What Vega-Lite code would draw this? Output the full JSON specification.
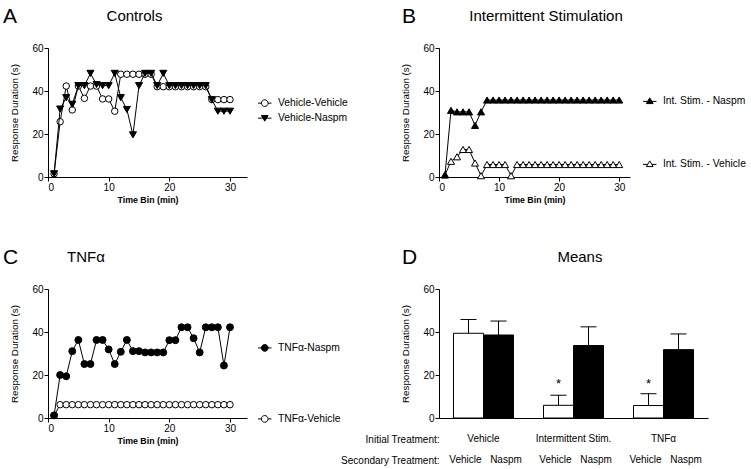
{
  "$schema": "https://vega.github.io/schema/vega-lite/v6.json",
  "padding": {"left": 3, "top": 6, "right": 0, "bottom": 0},
  "config": {
    "font": "Liberation Sans",
    "view": {"stroke": null},
    "axis": {"grid": false, "domainColor": "black", "tickColor": "black", "labelColor": "black", "titleColor": "black", "labelFontSize": 10, "titleFontSize": 9.8, "titleFontWeight": "normal", "tickSize": 4, "labelPadding": 1, "domainWidth": 1, "tickWidth": 1},
    "axisX": {"titlePadding": 3, "titleFontWeight": "bold", "titleFontSize": 8.8},
    "axisY": {"titlePadding": 12},
    "legend": {"labelFontSize": 10.3, "labelColor": "black", "padding": 0, "symbolStrokeWidth": 1, "symbolStrokeColor": "black", "symbolSize": 45, "labelOffset": 8, "title": null},
    "text": {"color": "black"}
  },
  "datasets": {
    "controls": [
      {"series":"Vehicle-Vehicle","bin":1,"duration":1.5},{"series":"Vehicle-Vehicle","bin":2,"duration":25.7},{"series":"Vehicle-Vehicle","bin":3,"duration":42.3},{"series":"Vehicle-Vehicle","bin":4,"duration":31.2},{"series":"Vehicle-Vehicle","bin":5,"duration":42.3},{"series":"Vehicle-Vehicle","bin":6,"duration":36.6},{"series":"Vehicle-Vehicle","bin":7,"duration":42.3},{"series":"Vehicle-Vehicle","bin":8,"duration":42.3},{"series":"Vehicle-Vehicle","bin":9,"duration":36.3},{"series":"Vehicle-Vehicle","bin":10,"duration":36.3},{"series":"Vehicle-Vehicle","bin":11,"duration":30.6},{"series":"Vehicle-Vehicle","bin":12,"duration":47.8},{"series":"Vehicle-Vehicle","bin":13,"duration":47.8},{"series":"Vehicle-Vehicle","bin":14,"duration":47.8},{"series":"Vehicle-Vehicle","bin":15,"duration":47.8},{"series":"Vehicle-Vehicle","bin":16,"duration":47.8},{"series":"Vehicle-Vehicle","bin":17,"duration":47.8},{"series":"Vehicle-Vehicle","bin":18,"duration":42},{"series":"Vehicle-Vehicle","bin":19,"duration":42},{"series":"Vehicle-Vehicle","bin":20,"duration":42},{"series":"Vehicle-Vehicle","bin":21,"duration":42},{"series":"Vehicle-Vehicle","bin":22,"duration":42},{"series":"Vehicle-Vehicle","bin":23,"duration":42},{"series":"Vehicle-Vehicle","bin":24,"duration":42},{"series":"Vehicle-Vehicle","bin":25,"duration":42},{"series":"Vehicle-Vehicle","bin":26,"duration":42},{"series":"Vehicle-Vehicle","bin":27,"duration":36},{"series":"Vehicle-Vehicle","bin":28,"duration":36},{"series":"Vehicle-Vehicle","bin":29,"duration":36},{"series":"Vehicle-Vehicle","bin":30,"duration":36},
      {"series":"Vehicle-Naspm","bin":1,"duration":1.5},{"series":"Vehicle-Naspm","bin":2,"duration":31.6},{"series":"Vehicle-Naspm","bin":3,"duration":36.9},{"series":"Vehicle-Naspm","bin":4,"duration":33.8},{"series":"Vehicle-Naspm","bin":5,"duration":42.5},{"series":"Vehicle-Naspm","bin":6,"duration":42.5},{"series":"Vehicle-Naspm","bin":7,"duration":48.2},{"series":"Vehicle-Naspm","bin":8,"duration":43},{"series":"Vehicle-Naspm","bin":9,"duration":42.5},{"series":"Vehicle-Naspm","bin":10,"duration":42.5},{"series":"Vehicle-Naspm","bin":11,"duration":48.2},{"series":"Vehicle-Naspm","bin":12,"duration":36.9},{"series":"Vehicle-Naspm","bin":13,"duration":31.4},{"series":"Vehicle-Naspm","bin":14,"duration":19.6},{"series":"Vehicle-Naspm","bin":15,"duration":42.5},{"series":"Vehicle-Naspm","bin":16,"duration":48.2},{"series":"Vehicle-Naspm","bin":17,"duration":48.2},{"series":"Vehicle-Naspm","bin":18,"duration":42.5},{"series":"Vehicle-Naspm","bin":19,"duration":48.2},{"series":"Vehicle-Naspm","bin":20,"duration":42.5},{"series":"Vehicle-Naspm","bin":21,"duration":42.5},{"series":"Vehicle-Naspm","bin":22,"duration":42.5},{"series":"Vehicle-Naspm","bin":23,"duration":42.5},{"series":"Vehicle-Naspm","bin":24,"duration":42.5},{"series":"Vehicle-Naspm","bin":25,"duration":42.5},{"series":"Vehicle-Naspm","bin":26,"duration":42.5},{"series":"Vehicle-Naspm","bin":27,"duration":36},{"series":"Vehicle-Naspm","bin":28,"duration":30.6},{"series":"Vehicle-Naspm","bin":29,"duration":30.6},{"series":"Vehicle-Naspm","bin":30,"duration":30.6}
    ],
    "intermittent": [
      {"series":"Int. Stim. - Vehicle","bin":1,"duration":1},{"series":"Int. Stim. - Vehicle","bin":2,"duration":7.3},{"series":"Int. Stim. - Vehicle","bin":3,"duration":9.4},{"series":"Int. Stim. - Vehicle","bin":4,"duration":12.8},{"series":"Int. Stim. - Vehicle","bin":5,"duration":12.8},{"series":"Int. Stim. - Vehicle","bin":6,"duration":6.5},{"series":"Int. Stim. - Vehicle","bin":7,"duration":0.6},{"series":"Int. Stim. - Vehicle","bin":8,"duration":5.8},{"series":"Int. Stim. - Vehicle","bin":9,"duration":5.8},{"series":"Int. Stim. - Vehicle","bin":10,"duration":5.8},{"series":"Int. Stim. - Vehicle","bin":11,"duration":5.8},{"series":"Int. Stim. - Vehicle","bin":12,"duration":0.6},{"series":"Int. Stim. - Vehicle","bin":13,"duration":5.8},{"series":"Int. Stim. - Vehicle","bin":14,"duration":5.8},{"series":"Int. Stim. - Vehicle","bin":15,"duration":5.8},{"series":"Int. Stim. - Vehicle","bin":16,"duration":5.8},{"series":"Int. Stim. - Vehicle","bin":17,"duration":5.8},{"series":"Int. Stim. - Vehicle","bin":18,"duration":5.8},{"series":"Int. Stim. - Vehicle","bin":19,"duration":5.8},{"series":"Int. Stim. - Vehicle","bin":20,"duration":5.8},{"series":"Int. Stim. - Vehicle","bin":21,"duration":5.8},{"series":"Int. Stim. - Vehicle","bin":22,"duration":5.8},{"series":"Int. Stim. - Vehicle","bin":23,"duration":5.8},{"series":"Int. Stim. - Vehicle","bin":24,"duration":5.8},{"series":"Int. Stim. - Vehicle","bin":25,"duration":5.8},{"series":"Int. Stim. - Vehicle","bin":26,"duration":5.8},{"series":"Int. Stim. - Vehicle","bin":27,"duration":5.8},{"series":"Int. Stim. - Vehicle","bin":28,"duration":5.8},{"series":"Int. Stim. - Vehicle","bin":29,"duration":5.8},{"series":"Int. Stim. - Vehicle","bin":30,"duration":5.8},
      {"series":"Int. Stim. - Naspm","bin":1,"duration":1},{"series":"Int. Stim. - Naspm","bin":2,"duration":31},{"series":"Int. Stim. - Naspm","bin":3,"duration":30.3},{"series":"Int. Stim. - Naspm","bin":4,"duration":30.3},{"series":"Int. Stim. - Naspm","bin":5,"duration":30.3},{"series":"Int. Stim. - Naspm","bin":6,"duration":24},{"series":"Int. Stim. - Naspm","bin":7,"duration":30.3},{"series":"Int. Stim. - Naspm","bin":8,"duration":35.8},{"series":"Int. Stim. - Naspm","bin":9,"duration":35.8},{"series":"Int. Stim. - Naspm","bin":10,"duration":35.8},{"series":"Int. Stim. - Naspm","bin":11,"duration":35.8},{"series":"Int. Stim. - Naspm","bin":12,"duration":35.8},{"series":"Int. Stim. - Naspm","bin":13,"duration":35.8},{"series":"Int. Stim. - Naspm","bin":14,"duration":35.8},{"series":"Int. Stim. - Naspm","bin":15,"duration":35.8},{"series":"Int. Stim. - Naspm","bin":16,"duration":35.8},{"series":"Int. Stim. - Naspm","bin":17,"duration":35.8},{"series":"Int. Stim. - Naspm","bin":18,"duration":35.8},{"series":"Int. Stim. - Naspm","bin":19,"duration":35.8},{"series":"Int. Stim. - Naspm","bin":20,"duration":35.8},{"series":"Int. Stim. - Naspm","bin":21,"duration":35.8},{"series":"Int. Stim. - Naspm","bin":22,"duration":35.8},{"series":"Int. Stim. - Naspm","bin":23,"duration":35.8},{"series":"Int. Stim. - Naspm","bin":24,"duration":35.8},{"series":"Int. Stim. - Naspm","bin":25,"duration":35.8},{"series":"Int. Stim. - Naspm","bin":26,"duration":35.8},{"series":"Int. Stim. - Naspm","bin":27,"duration":35.8},{"series":"Int. Stim. - Naspm","bin":28,"duration":35.8},{"series":"Int. Stim. - Naspm","bin":29,"duration":35.8},{"series":"Int. Stim. - Naspm","bin":30,"duration":35.8}
    ],
    "tnf": [
      {"series":"TNFα-Vehicle","bin":1,"duration":1.2},{"series":"TNFα-Vehicle","bin":2,"duration":6.2},{"series":"TNFα-Vehicle","bin":3,"duration":6.2},{"series":"TNFα-Vehicle","bin":4,"duration":6.2},{"series":"TNFα-Vehicle","bin":5,"duration":6.2},{"series":"TNFα-Vehicle","bin":6,"duration":6.2},{"series":"TNFα-Vehicle","bin":7,"duration":6.2},{"series":"TNFα-Vehicle","bin":8,"duration":6.2},{"series":"TNFα-Vehicle","bin":9,"duration":6.2},{"series":"TNFα-Vehicle","bin":10,"duration":6.2},{"series":"TNFα-Vehicle","bin":11,"duration":6.2},{"series":"TNFα-Vehicle","bin":12,"duration":6.2},{"series":"TNFα-Vehicle","bin":13,"duration":6.2},{"series":"TNFα-Vehicle","bin":14,"duration":6.2},{"series":"TNFα-Vehicle","bin":15,"duration":6.2},{"series":"TNFα-Vehicle","bin":16,"duration":6.2},{"series":"TNFα-Vehicle","bin":17,"duration":6.2},{"series":"TNFα-Vehicle","bin":18,"duration":6.2},{"series":"TNFα-Vehicle","bin":19,"duration":6.2},{"series":"TNFα-Vehicle","bin":20,"duration":6.2},{"series":"TNFα-Vehicle","bin":21,"duration":6.2},{"series":"TNFα-Vehicle","bin":22,"duration":6.2},{"series":"TNFα-Vehicle","bin":23,"duration":6.2},{"series":"TNFα-Vehicle","bin":24,"duration":6.2},{"series":"TNFα-Vehicle","bin":25,"duration":6.2},{"series":"TNFα-Vehicle","bin":26,"duration":6.2},{"series":"TNFα-Vehicle","bin":27,"duration":6.2},{"series":"TNFα-Vehicle","bin":28,"duration":6.2},{"series":"TNFα-Vehicle","bin":29,"duration":6.2},{"series":"TNFα-Vehicle","bin":30,"duration":6.2},
      {"series":"TNFα-Naspm","bin":1,"duration":1.2},{"series":"TNFα-Naspm","bin":2,"duration":20},{"series":"TNFα-Naspm","bin":3,"duration":19.4},{"series":"TNFα-Naspm","bin":4,"duration":31.1},{"series":"TNFα-Naspm","bin":5,"duration":36.3},{"series":"TNFα-Naspm","bin":6,"duration":25.1},{"series":"TNFα-Naspm","bin":7,"duration":25.1},{"series":"TNFα-Naspm","bin":8,"duration":36.3},{"series":"TNFα-Naspm","bin":9,"duration":36.3},{"series":"TNFα-Naspm","bin":10,"duration":31.9},{"series":"TNFα-Naspm","bin":11,"duration":25.1},{"series":"TNFα-Naspm","bin":12,"duration":30.8},{"series":"TNFα-Naspm","bin":13,"duration":36.3},{"series":"TNFα-Naspm","bin":14,"duration":31.1},{"series":"TNFα-Naspm","bin":15,"duration":31.1},{"series":"TNFα-Naspm","bin":16,"duration":30.5},{"series":"TNFα-Naspm","bin":17,"duration":30.5},{"series":"TNFα-Naspm","bin":18,"duration":30.5},{"series":"TNFα-Naspm","bin":19,"duration":30.5},{"series":"TNFα-Naspm","bin":20,"duration":36.2},{"series":"TNFα-Naspm","bin":21,"duration":36.2},{"series":"TNFα-Naspm","bin":22,"duration":42.2},{"series":"TNFα-Naspm","bin":23,"duration":42.2},{"series":"TNFα-Naspm","bin":24,"duration":37.1},{"series":"TNFα-Naspm","bin":25,"duration":30.5},{"series":"TNFα-Naspm","bin":26,"duration":42.2},{"series":"TNFα-Naspm","bin":27,"duration":42.2},{"series":"TNFα-Naspm","bin":28,"duration":42.2},{"series":"TNFα-Naspm","bin":29,"duration":24.4},{"series":"TNFα-Naspm","bin":30,"duration":42.2}
    ],
    "means": [
      {"initial":"Vehicle","secondary":"Vehicle","mean":39.4,"upper":45.8,"sig":""},
      {"initial":"Vehicle","secondary":"Naspm","mean":38.6,"upper":45.1,"sig":""},
      {"initial":"Intermittent Stim.","secondary":"Vehicle","mean":5.9,"upper":10.6,"sig":"*"},
      {"initial":"Intermittent Stim.","secondary":"Naspm","mean":33.7,"upper":42.4,"sig":""},
      {"initial":"TNFα","secondary":"Vehicle","mean":5.8,"upper":11.3,"sig":"*"},
      {"initial":"TNFα","secondary":"Naspm","mean":31.8,"upper":39.1,"sig":""}
    ],
    "labels": [
      {"panel":"A","letter":"A","name":"Controls"},
      {"panel":"B","letter":"B","name":"Intermittent Stimulation"},
      {"panel":"C","letter":"C","name":"TNFα"},
      {"panel":"D","letter":"D","name":"Means"}
    ]
  },
  "columns": 2,
  "spacing": {"row": 112, "column": 192},
  "bounds": "flush",
  "concat": [
    {
      "width": 199, "height": 129,
      "layer": [
        {"data": {"name": "controls"}, "transform": [{"filter": "datum.series === 'Vehicle-Vehicle'"}],
         "mark": {"type": "line", "color": "black", "strokeWidth": 1},
         "encoding": {
           "x": {"field": "bin", "type": "quantitative", "scale": {"domain": [0, 32.8], "nice": false}, "axis": {"values": [0, 10, 20, 30], "title": "Time Bin (min)"}},
           "y": {"field": "duration", "type": "quantitative", "scale": {"domain": [0, 60], "nice": false}, "axis": {"values": [0, 20, 40, 60], "title": "Response Duration (s)"}}}},
        {"data": {"name": "controls"}, "transform": [{"filter": "datum.series === 'Vehicle-Vehicle'"}],
         "mark": {"type": "point", "shape": "circle", "filled": true, "size": 42, "stroke": "black", "strokeWidth": 1, "opacity": 1},
         "encoding": {
           "x": {"field": "bin", "type": "quantitative", "scale": {"domain": [0, 32.8], "nice": false}},
           "y": {"field": "duration", "type": "quantitative", "scale": {"domain": [0, 60], "nice": false}},
           "fill": {"field": "series", "type": "nominal", "scale": {"range": ["white"]},
             "legend": {"orient": "none", "legendX": 211.6, "legendY": 50, "symbolType": "M-2,0H-1M1,0H2M-1,0A1,1,0,1,0,1,0A1,1,0,1,0,-1,0Z",
               "encode": {"symbols": {"update": {"stroke": {"value": "black"}, "strokeWidth": {"value": 1}, "opacity": {"value": 1}}}}}}}},
        {"data": {"name": "controls"}, "transform": [{"filter": "datum.series === 'Vehicle-Naspm'"}],
         "mark": {"type": "line", "color": "black", "strokeWidth": 1},
         "encoding": {
           "x": {"field": "bin", "type": "quantitative", "scale": {"domain": [0, 32.8], "nice": false}},
           "y": {"field": "duration", "type": "quantitative", "scale": {"domain": [0, 60], "nice": false}}}},
        {"data": {"name": "controls"}, "transform": [{"filter": "datum.series === 'Vehicle-Naspm'"}],
         "mark": {"type": "point", "shape": "triangle-down", "filled": true, "size": 50, "stroke": "black", "strokeWidth": 1, "opacity": 1},
         "encoding": {
           "x": {"field": "bin", "type": "quantitative", "scale": {"domain": [0, 32.8], "nice": false}},
           "y": {"field": "duration", "type": "quantitative", "scale": {"domain": [0, 60], "nice": false}},
           "fill": {"field": "series", "type": "nominal", "scale": {"range": ["black"]},
             "legend": {"orient": "none", "legendX": 211.6, "legendY": 65, "symbolType": "M-2,0H2M-1,-0.8H1L0,0.9Z",
               "encode": {"symbols": {"update": {"stroke": {"value": "black"}, "strokeWidth": {"value": 1}, "opacity": {"value": 1}}}}}}}},
        {"data": {"name": "labels"}, "transform": [{"filter": "datum.panel === 'A'"}],
         "mark": {"type": "text", "fontSize": 21, "align": "left", "baseline": "alphabetic"},
         "encoding": {
           "x": {"datum": -7.4, "type": "quantitative", "scale": {"domain": [0, 32.8], "nice": false}},
           "y": {"datum": 71.6, "type": "quantitative", "scale": {"domain": [0, 60], "nice": false}},
           "text": {"field": "letter"}}},
        {"data": {"name": "labels"}, "transform": [{"filter": "datum.panel === 'A'"}],
         "mark": {"type": "text", "fontSize": 15, "align": "center", "baseline": "alphabetic"},
         "encoding": {
           "x": {"datum": 14.26, "type": "quantitative", "scale": {"domain": [0, 32.8], "nice": false}},
           "y": {"datum": 72.56, "type": "quantitative", "scale": {"domain": [0, 60], "nice": false}},
           "text": {"field": "name"}}}
      ],
      "resolve": {"scale": {"fill": "independent"}}
    },
    {
      "width": 191, "height": 129,
      "layer": [
        {"data": {"name": "intermittent"}, "transform": [{"filter": "datum.series === 'Int. Stim. - Vehicle'"}],
         "mark": {"type": "line", "color": "black", "strokeWidth": 1},
         "encoding": {
           "x": {"field": "bin", "type": "quantitative", "scale": {"domain": [0, 31.8], "nice": false}, "axis": {"values": [0, 10, 20, 30], "title": "Time Bin (min)"}},
           "y": {"field": "duration", "type": "quantitative", "scale": {"domain": [0, 60], "nice": false}, "axis": {"values": [0, 20, 40, 60], "title": "Response Duration (s)"}}}},
        {"data": {"name": "intermittent"}, "transform": [{"filter": "datum.series === 'Int. Stim. - Vehicle'"}],
         "mark": {"type": "point", "shape": "triangle-up", "filled": true, "size": 50, "stroke": "black", "strokeWidth": 1, "opacity": 1},
         "encoding": {
           "x": {"field": "bin", "type": "quantitative", "scale": {"domain": [0, 31.8], "nice": false}},
           "y": {"field": "duration", "type": "quantitative", "scale": {"domain": [0, 60], "nice": false}},
           "fill": {"field": "series", "type": "nominal", "scale": {"range": ["white"]},
             "legend": {"orient": "none", "legendX": 205.6, "legendY": 110.75, "symbolType": "M-2,0.15H-0.62M0.62,0.15H2M-1,0.8H1L0,-0.9Z",
               "encode": {"symbols": {"update": {"stroke": {"value": "black"}, "strokeWidth": {"value": 1}, "opacity": {"value": 1}}}}}}}},
        {"data": {"name": "intermittent"}, "transform": [{"filter": "datum.series === 'Int. Stim. - Naspm'"}],
         "mark": {"type": "line", "color": "black", "strokeWidth": 1},
         "encoding": {
           "x": {"field": "bin", "type": "quantitative", "scale": {"domain": [0, 31.8], "nice": false}},
           "y": {"field": "duration", "type": "quantitative", "scale": {"domain": [0, 60], "nice": false}}}},
        {"data": {"name": "intermittent"}, "transform": [{"filter": "datum.series === 'Int. Stim. - Naspm'"}],
         "mark": {"type": "point", "shape": "triangle-up", "filled": true, "size": 50, "stroke": "black", "strokeWidth": 1, "opacity": 1},
         "encoding": {
           "x": {"field": "bin", "type": "quantitative", "scale": {"domain": [0, 31.8], "nice": false}},
           "y": {"field": "duration", "type": "quantitative", "scale": {"domain": [0, 60], "nice": false}},
           "fill": {"field": "series", "type": "nominal", "scale": {"range": ["black"]},
             "legend": {"orient": "none", "legendX": 205.6, "legendY": 47.75, "symbolType": "M-2,0.15H2M-1,0.8H1L0,-0.9Z",
               "encode": {"symbols": {"update": {"stroke": {"value": "black"}, "strokeWidth": {"value": 1}, "opacity": {"value": 1}}}}}}}},
        {"data": {"name": "labels"}, "transform": [{"filter": "datum.panel === 'B'"}],
         "mark": {"type": "text", "fontSize": 21, "align": "left", "baseline": "alphabetic"},
         "encoding": {
           "x": {"datum": -6.16, "type": "quantitative", "scale": {"domain": [0, 31.8], "nice": false}},
           "y": {"datum": 71.6, "type": "quantitative", "scale": {"domain": [0, 60], "nice": false}},
           "text": {"field": "letter"}}},
        {"data": {"name": "labels"}, "transform": [{"filter": "datum.panel === 'B'"}],
         "mark": {"type": "text", "fontSize": 15, "align": "center", "baseline": "alphabetic"},
         "encoding": {
           "x": {"datum": 17.82, "type": "quantitative", "scale": {"domain": [0, 31.8], "nice": false}},
           "y": {"datum": 72.56, "type": "quantitative", "scale": {"domain": [0, 60], "nice": false}},
           "text": {"field": "name"}}}
      ],
      "resolve": {"scale": {"fill": "independent"}}
    },
    {
      "width": 199, "height": 129,
      "layer": [
        {"data": {"name": "tnf"}, "transform": [{"filter": "datum.series === 'TNFα-Vehicle'"}],
         "mark": {"type": "line", "color": "black", "strokeWidth": 1},
         "encoding": {
           "x": {"field": "bin", "type": "quantitative", "scale": {"domain": [0, 32.8], "nice": false}, "axis": {"values": [0, 10, 20, 30], "title": "Time Bin (min)"}},
           "y": {"field": "duration", "type": "quantitative", "scale": {"domain": [0, 60], "nice": false}, "axis": {"values": [0, 20, 40, 60], "title": "Response Duration (s)"}}}},
        {"data": {"name": "tnf"}, "transform": [{"filter": "datum.series === 'TNFα-Vehicle'"}],
         "mark": {"type": "point", "shape": "circle", "filled": true, "size": 42, "stroke": "black", "strokeWidth": 1, "opacity": 1},
         "encoding": {
           "x": {"field": "bin", "type": "quantitative", "scale": {"domain": [0, 32.8], "nice": false}},
           "y": {"field": "duration", "type": "quantitative", "scale": {"domain": [0, 60], "nice": false}},
           "fill": {"field": "series", "type": "nominal", "scale": {"range": ["white"]},
             "legend": {"orient": "none", "legendX": 211.6, "legendY": 124.75, "symbolType": "M-2,0H-1M1,0H2M-1,0A1,1,0,1,0,1,0A1,1,0,1,0,-1,0Z",
               "encode": {"symbols": {"update": {"stroke": {"value": "black"}, "strokeWidth": {"value": 1}, "opacity": {"value": 1}}}}}}}},
        {"data": {"name": "tnf"}, "transform": [{"filter": "datum.series === 'TNFα-Naspm'"}],
         "mark": {"type": "line", "color": "black", "strokeWidth": 1},
         "encoding": {
           "x": {"field": "bin", "type": "quantitative", "scale": {"domain": [0, 32.8], "nice": false}},
           "y": {"field": "duration", "type": "quantitative", "scale": {"domain": [0, 60], "nice": false}}}},
        {"data": {"name": "tnf"}, "transform": [{"filter": "datum.series === 'TNFα-Naspm'"}],
         "mark": {"type": "point", "shape": "circle", "filled": true, "size": 48, "stroke": "black", "strokeWidth": 1, "opacity": 1},
         "encoding": {
           "x": {"field": "bin", "type": "quantitative", "scale": {"domain": [0, 32.8], "nice": false}},
           "y": {"field": "duration", "type": "quantitative", "scale": {"domain": [0, 60], "nice": false}},
           "fill": {"field": "series", "type": "nominal", "scale": {"range": ["black"]},
             "legend": {"orient": "none", "legendX": 211.6, "legendY": 53.75, "symbolType": "M-2,0H2M-1,0A1,1,0,1,0,1,0A1,1,0,1,0,-1,0Z",
               "encode": {"symbols": {"update": {"stroke": {"value": "black"}, "strokeWidth": {"value": 1}, "opacity": {"value": 1}}}}}}}},
        {"data": {"name": "labels"}, "transform": [{"filter": "datum.panel === 'C'"}],
         "mark": {"type": "text", "fontSize": 21, "align": "left", "baseline": "alphabetic"},
         "encoding": {
           "x": {"datum": -7.4, "type": "quantitative", "scale": {"domain": [0, 32.8], "nice": false}},
           "y": {"datum": 71.6, "type": "quantitative", "scale": {"domain": [0, 60], "nice": false}},
           "text": {"field": "letter"}}},
        {"data": {"name": "labels"}, "transform": [{"filter": "datum.panel === 'C'"}],
         "mark": {"type": "text", "fontSize": 15, "align": "center", "baseline": "alphabetic"},
         "encoding": {
           "x": {"datum": 6.26, "type": "quantitative", "scale": {"domain": [0, 32.8], "nice": false}},
           "y": {"datum": 72.56, "type": "quantitative", "scale": {"domain": [0, 60], "nice": false}},
           "text": {"field": "name"}}}
      ],
      "resolve": {"scale": {"fill": "independent"}}
    },
    {
      "width": 269, "height": 129,
      "layer": [
        {
          "data": {"name": "means"},
          "encoding": {
            "x": {"field": "initial", "type": "nominal", "sort": null,
                  "scale": {"type": "band", "domain": ["Vehicle", "Intermittent Stim.", "TNFα"], "paddingInner": 0.3333, "paddingOuter": 0.161},
                  "axis": {"labels": false, "ticks": false, "domain": true, "title": ["Initial Treatment:", "Secondary Treatment:"], "titleX": 0, "titleY": 24.6, "titleAlign": "right", "titleBaseline": "alphabetic", "titleLineHeight": 21, "titleAngle": 0, "titleFontSize": 10, "titleFontWeight": "normal"}},
            "xOffset": {"field": "secondary", "type": "nominal", "scale": {"domain": ["Vehicle", "Naspm"], "paddingInner": 0, "paddingOuter": 0}}
          },
          "layer": [
            {"mark": {"type": "bar", "stroke": "black", "strokeWidth": 1},
             "encoding": {
               "y": {"field": "mean", "type": "quantitative", "scale": {"domain": [0, 60], "nice": false}, "axis": {"values": [0, 20, 40, 60], "title": "Response Duration (s)"}},
               "fill": {"field": "secondary", "type": "nominal", "scale": {"domain": ["Vehicle", "Naspm"], "range": ["white", "black"]}, "legend": null}}},
            {"mark": {"type": "rule", "color": "black", "strokeWidth": 1},
             "encoding": {
               "y": {"field": "mean", "type": "quantitative", "scale": {"domain": [0, 60], "nice": false}},
               "y2": {"field": "upper"}}},
            {"mark": {"type": "tick", "orient": "horizontal", "size": 16, "thickness": 1, "color": "black", "opacity": 1},
             "encoding": {
               "y": {"field": "upper", "type": "quantitative", "scale": {"domain": [0, 60], "nice": false}}}},
            {"transform": [{"filter": "datum.sig !== ''"}],
             "mark": {"type": "text", "fontSize": 13, "align": "center", "baseline": "middle"},
             "encoding": {
               "y": {"datum": 16, "type": "quantitative", "scale": {"domain": [0, 60], "nice": false}},
               "text": {"field": "sig"}}},
            {"transform": [{"filter": "datum.secondary === 'Vehicle'"}],
             "mark": {"type": "text", "fontSize": 10, "align": "center", "baseline": "middle"},
             "encoding": {
               "xOffset": null,
               "y": {"datum": -9.8, "type": "quantitative", "scale": {"domain": [0, 60], "nice": false}},
               "text": {"field": "initial"}}},
            {"transform": [{"filter": "datum.secondary === 'Vehicle'"}],
             "mark": {"type": "text", "fontSize": 10, "align": "center", "baseline": "middle", "dx": -3},
             "encoding": {
               "y": {"datum": -19.5, "type": "quantitative", "scale": {"domain": [0, 60], "nice": false}},
               "text": {"field": "secondary"}}},
            {"transform": [{"filter": "datum.secondary === 'Naspm'"}],
             "mark": {"type": "text", "fontSize": 10, "align": "center", "baseline": "middle", "dx": 7.5},
             "encoding": {
               "y": {"datum": -19.5, "type": "quantitative", "scale": {"domain": [0, 60], "nice": false}},
               "text": {"field": "secondary"}}}
          ]
        },
        {"data": {"name": "labels"}, "transform": [{"filter": "datum.panel === 'D'"}],
         "layer": [
           {"mark": {"type": "text", "fontSize": 21, "align": "left", "baseline": "alphabetic"},
            "encoding": {
              "x": {"datum": -0.1375, "type": "quantitative", "scale": {"domain": [0, 1], "nice": false}, "axis": null},
              "y": {"datum": 71.6, "type": "quantitative", "scale": {"domain": [0, 60], "nice": false}},
              "text": {"field": "letter"}}},
           {"mark": {"type": "text", "fontSize": 15, "align": "center", "baseline": "alphabetic"},
            "encoding": {
              "x": {"datum": 0.524, "type": "quantitative", "scale": {"domain": [0, 1], "nice": false}, "axis": null},
              "y": {"datum": 72.56, "type": "quantitative", "scale": {"domain": [0, 60], "nice": false}},
              "text": {"field": "name"}}}
         ]}
      ],
      "resolve": {"scale": {"x": "independent"}}
    }
  ]
}
